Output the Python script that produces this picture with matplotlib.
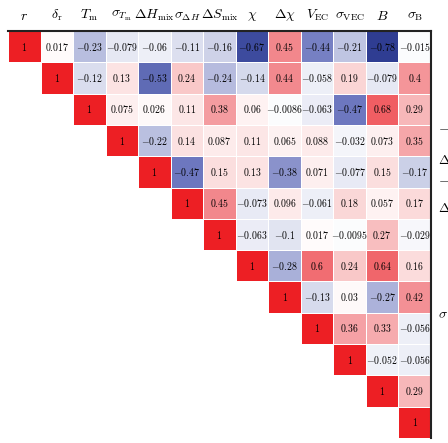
import numpy as np
import matplotlib
matplotlib.use("Agg")
import matplotlib.pyplot as plt
from matplotlib.colors import LinearSegmentedColormap

plt.rcParams["mathtext.fontset"] = "cm"
plt.rcParams["font.family"] = "serif"
plt.rcParams["font.serif"] = ["cmr10", "DejaVu Serif"]
plt.rcParams["axes.formatter.use_mathtext"] = True

labels = [r"$r$", r"$\delta_{\rm r}$", r"$T_{\rm m}$", r"$\sigma_{T_{\rm m}}$",
          r"$\Delta H_{\rm mix}$", r"$\sigma_{\Delta H}$", r"$\Delta S_{\rm mix}$",
          r"$\chi$", r"$\Delta\chi$", r"$V_{\rm EC}$", r"$\sigma_{\rm VEC}$",
          r"$B$", r"$\sigma_{\rm B}$"]

# upper triangle rows, starting at the diagonal
rows = [
    [1, 0.017, -0.23, -0.079, -0.06, -0.11, -0.16, -0.67, 0.45, -0.44, -0.21, -0.78, -0.015],
    [1, -0.12, 0.13, -0.53, 0.24, -0.24, -0.14, 0.44, -0.058, 0.19, -0.079, 0.4],
    [1, 0.075, 0.026, 0.11, 0.38, 0.06, -0.0086, -0.063, -0.47, 0.68, 0.29],
    [1, -0.22, 0.14, 0.087, 0.11, 0.065, 0.088, -0.032, 0.073, 0.35],
    [1, -0.47, 0.15, 0.13, -0.38, 0.071, -0.077, 0.15, -0.17],
    [1, 0.45, -0.073, 0.096, -0.061, 0.18, 0.057, 0.17],
    [1, -0.063, -0.1, 0.017, -0.0095, 0.27, -0.029],
    [1, -0.28, 0.6, 0.24, 0.64, 0.16],
    [1, -0.13, 0.03, -0.27, 0.42],
    [1, 0.36, 0.33, -0.056],
    [1, -0.052, -0.056],
    [1, 0.29],
    [1],
]

n = len(labels)
corr = np.full((n, n), np.nan)
for i, row in enumerate(rows):
    corr[i, i:] = row

cmap = LinearSegmentedColormap.from_list("rb", [
    (0.0, (0.12, 0.16, 0.50)),
    (0.15, (0.21, 0.27, 0.60)),
    (0.265, (0.43, 0.47, 0.75)),
    (0.40, (0.76, 0.78, 0.89)),
    (0.5, (1.0, 1.0, 1.0)),
    (0.60, (0.98, 0.83, 0.83)),
    (0.725, (0.95, 0.53, 0.55)),
    (0.85, (0.94, 0.36, 0.38)),
    (1.0, (0.93, 0.12, 0.14)),
])

fig = plt.figure(figsize=(4.48, 4.43), dpi=100)
ax = fig.add_axes([8 / 448, 1 - 438 / 443, 423 / 448, 407 / 443])

masked = np.ma.masked_invalid(corr)
ax.pcolormesh(np.arange(n + 1), np.arange(n + 1), masked, cmap=cmap,
              vmin=-1, vmax=1, edgecolors="white", linewidth=0.5)

# faint cell grid
for k in range(n + 1):
    ax.axhline(k, color="#f3f3f3", lw=0.6, zorder=0)
    ax.axvline(k, color="#f3f3f3", lw=0.6, zorder=0)

for i in range(n):
    for j in range(i, n):
        v = corr[i, j]
        txt = "1" if v == 1 else format(v, ".2g")
        ax.text(j + 0.5, i + 0.5, "$" + txt + "$",
                ha="center", va="center", fontsize=7.1, color="black")

ax.set_xlim(0, n)
ax.set_ylim(n, 0)
ax.set_xticks(np.arange(n) + 0.5)
ax.set_xticklabels(labels, fontsize=10)
ax.xaxis.tick_top()
ax.tick_params(axis="x", length=0, pad=6)
ax.set_yticks([])

for side in ["left", "bottom"]:
    ax.spines[side].set_visible(False)
for side in ["top", "right"]:
    ax.spines[side].set_linewidth(1.5)
    ax.spines[side].set_color("#222222")

# labels of the neighbouring panel, cut by the picture edge as in the original
side_labels = [(128, r"$-$"), (160, r"$\Delta$"), (180, r"$-$"),
               (208, r"$\Delta$"), (315, r"$\sigma$")]
for ypix, s in side_labels:
    fig.text(438 / 448, 1 - ypix / 443, s, fontsize=10, va="center", ha="left")

fig.savefig("out.png", dpi=100)
